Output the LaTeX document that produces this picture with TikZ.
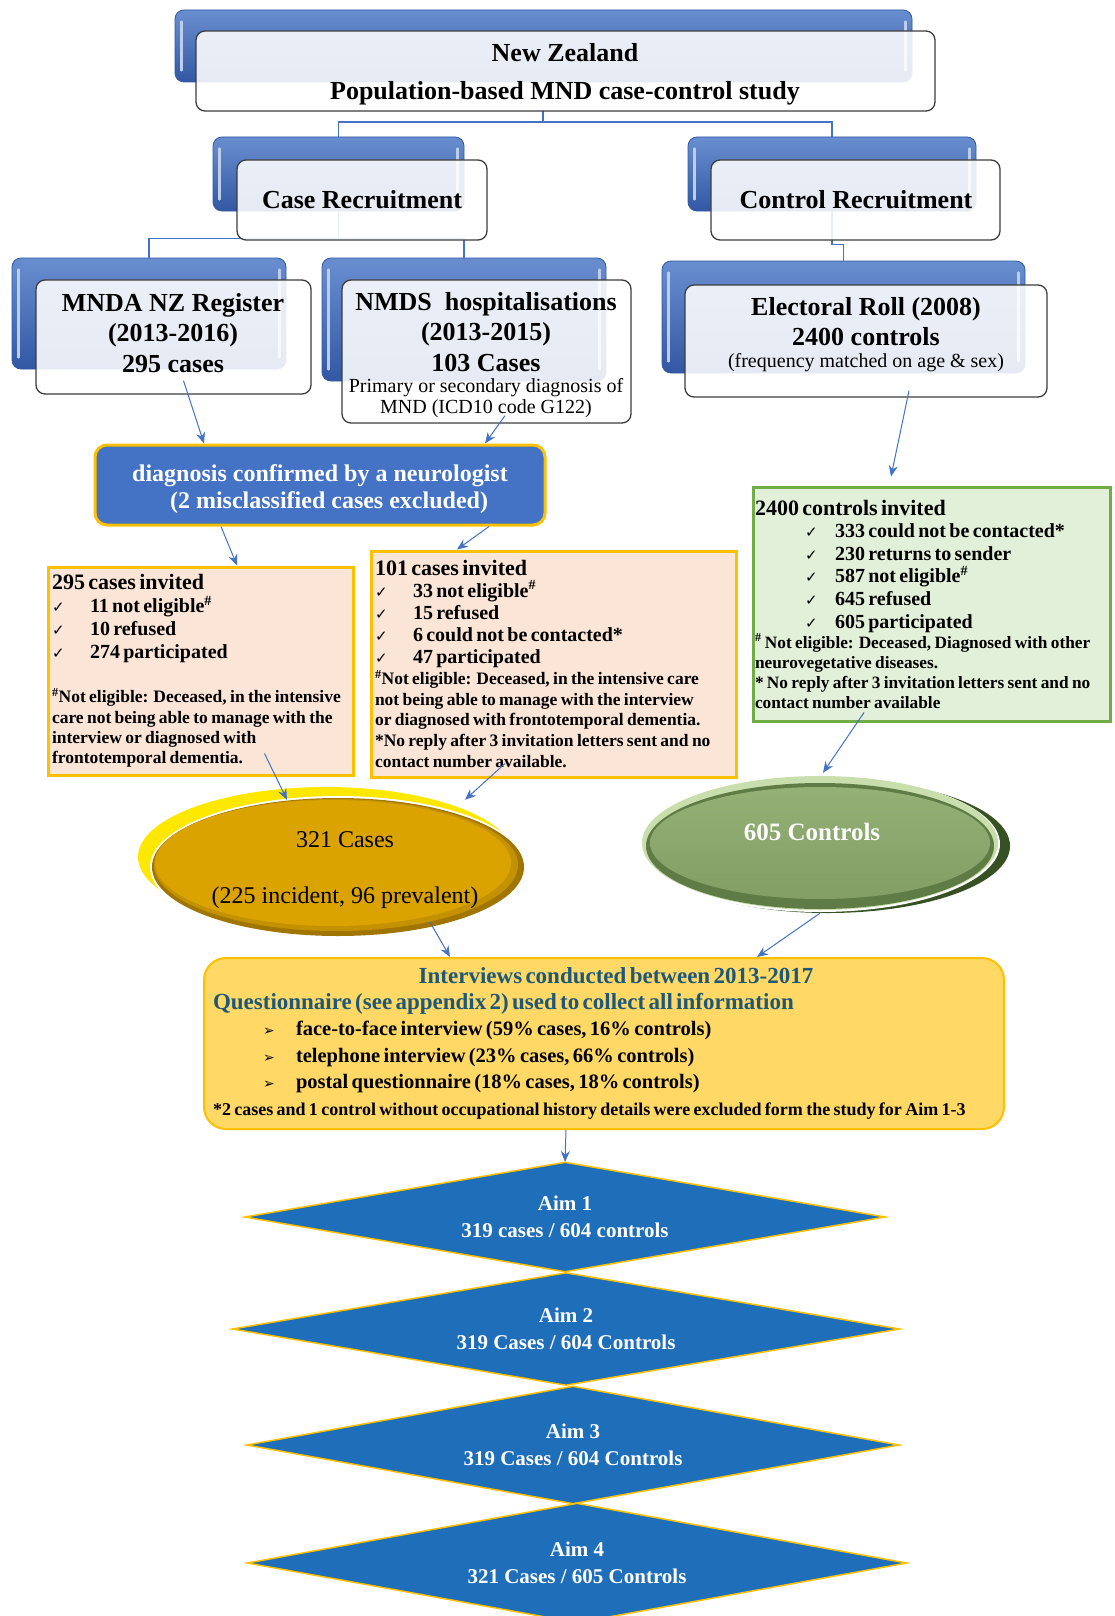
\documentclass[tikz,border=0pt]{standalone}
\usepackage{fontspec}
\setmainfont{Liberation Serif}
\newfontfamily\symfont{DejaVu Sans}
\usepackage{xcolor}
\usetikzlibrary{shapes.geometric, arrows.meta, calc, positioning}
\definecolor{rollblue}{RGB}{68,114,196}
\definecolor{rolldark}{RGB}{50,88,164}
\definecolor{frameedge}{RGB}{60,60,60}
\definecolor{amber}{RGB}{255,192,0}
\definecolor{peach}{RGB}{251,229,214}
\definecolor{mint}{RGB}{226,240,217}
\definecolor{leafgreen}{RGB}{112,173,71}
\definecolor{butter}{RGB}{255,216,102}
\definecolor{tealtext}{RGB}{30,88,120}
\definecolor{aimblue}{RGB}{31,110,185}
\definecolor{goldcase}{RGB}{218,163,0}
\definecolor{goldmid}{RGB}{196,145,0}
\definecolor{golddark}{RGB}{160,118,0}
\definecolor{lemon}{RGB}{255,232,0}
\definecolor{sage}{RGB}{142,172,110}
\definecolor{sagemid}{RGB}{96,124,70}
\definecolor{sagelight}{RGB}{200,222,172}
\definecolor{sagedark}{RGB}{55,80,36}
\newcommand{\ck}{\makebox[38pt][l]{\symfont\fontsize{15}{15}\selectfont ✓}}
\newcommand{\ckc}{\hspace*{50pt}\makebox[30pt][l]{\symfont\fontsize{15}{15}\selectfont ✓}}
\newcommand{\bul}{\hspace*{50pt}\makebox[33pt][l]{\symfont\fontsize{14}{14}\selectfont ➢}}
\newcommand{\hs}{\textsuperscript{\#}}

\begin{document}
\begin{tikzpicture}[x=1pt,y=-1pt,>={Stealth[length=11pt,width=9pt]},
    backbox/.style={rounded corners=9pt, top color=rollblue!80!white, bottom color=rolldark, draw=rolldark, line width=0.8pt, inner sep=0pt},
    frontbox/.style={rounded corners=9pt, draw=frameedge, line width=1.3pt, fill=white, fill opacity=0.88, draw opacity=1, inner sep=0pt},
    heading/.style={font=\fontsize{26}{30.5}\selectfont\bfseries, align=center},
    subnote/.style={font=\fontsize{20}{21}\selectfont, align=center},
    glint/.style={draw=white!65!rollblue, line width=2.5pt, line cap=round},
    link/.style={draw=rollblue, line width=1.6pt},
    arr/.style={->, draw=rollblue, line width=1pt},
    casebox/.style={draw=amber, line width=3pt, fill=peach, align=left, inner xsep=4pt, inner ysep=0pt},
    aim/.style={diamond, shape aspect=5.7, draw=amber, line width=1.5pt, fill=aimblue, inner sep=0pt, text=white, align=center, font=\fontsize{21}{27}\selectfont\bfseries}]

\fill[white] (0,0) rectangle (1114,1616);
\clip (0,0) rectangle (1114,1616);

% Back boxes of the recruitment tree
\node[backbox, minimum width=737pt, minimum height=72pt] (topback) at (543.5,46) {};
\node[backbox, minimum width=251pt, minimum height=74pt] (caseback) at (338.5,174) {};
\node[backbox, minimum width=288pt, minimum height=74pt] (ctrlback) at (832,174) {};
\node[backbox, minimum width=274pt, minimum height=111pt] (mndaback) at (149,313.5) {};
\node[backbox, minimum width=284pt, minimum height=123pt] (nmdsback) at (464,319.5) {};
\node[backbox, minimum width=363pt, minimum height=112pt] (elecback) at (843.5,317) {};
\foreach \b in {topback,caseback,ctrlback,mndaback,nmdsback,elecback}{
    \draw[glint] ($(\b.north west)+(7,12)$) -- ($(\b.south west)+(7,-12)$);
    \draw[glint] ($(\b.north east)+(-7,12)$) -- ($(\b.south east)+(-7,-12)$);
}

% Tree connectors
\coordinate (tj) at (543,122);
\draw[link] (tj |- 0,111) -- (tj);
\draw[link] (caseback.north) |- (tj) -| (ctrlback.north);
\draw[link] (caseback.south) -- ++(0,27) coordinate (cj);
\draw[link] (mndaback.north) |- (cj) -| (nmdsback.north);
\draw[link] (ctrlback.south) |- ($(elecback.north)+(0,-16)$) -- (elecback.north);

% Front boxes
\node[frontbox, minimum width=739pt, minimum height=80pt] (topfront) at (565.5,71) {};
\node[frontbox, minimum width=250pt, minimum height=80pt] (casefront) at (362,200) {};
\node[frontbox, minimum width=289pt, minimum height=80pt] (ctrlfront) at (855.5,200) {};
\node[frontbox, minimum width=275pt, minimum height=114pt] (mndafront) at (173.5,337) {};
\node[frontbox, minimum width=289pt, minimum height=143pt] (nmdsfront) at (486.5,351.5) {};
\node[frontbox, minimum width=362pt, minimum height=112pt] (elecfront) at (866,341) {};

\node[heading, font=\fontsize{26}{38}\selectfont\bfseries] (toptxt) at (565,74) {New Zealand\\Population-based MND case-control study};
\node[heading] (casetxt) at (362,200) {Case Recruitment};
\node[heading] (ctrltxt) at (856,200) {Control Recruitment};
\node[heading] (mndatxt) at (173,333) {MNDA NZ Register\\(2013-2016)\\295 cases};
\node[heading] (nmdstxt) at (486,332) {NMDS\ \ hospitalisations\\(2013-2015)\\103 Cases};
\node[subnote] (nmdsnote) at (486,398.5) {Primary or secondary diagnosis of\\MND (ICD10 code G122)};
\node[heading, font=\fontsize{26}{30}\selectfont\bfseries] (electxt) at (866,322) {Electoral Roll (2008)\\2400 controls};
\node[subnote] (elecnote) at (866,363) {(frequency matched on age \& sex)};

% Neurologist check
\node[rounded corners=12pt, draw=amber, line width=3pt, fill=rollblue, text=white, align=center,
      minimum width=450pt, minimum height=80pt, font=\fontsize{24}{27}\selectfont\bfseries] (diag) at (320,485)
      {};
\node[text=white, align=center, font=\fontsize{24}{27}\selectfont\bfseries] (diagtxt) at (320,489)
      {diagnosis confirmed by a neurologist\\\hspace*{18pt}(2 misclassified cases excluded)};

% Invitation boxes
\node[casebox, text width=297pt, minimum height=208pt] (leftcase) at (200.5,671) {%
{\fontsize{22}{23}\selectfont\bfseries 295 cases invited\par}
{\fontsize{20}{23}\selectfont\bfseries \ck 11 not eligible\hs\\ \ck 10 refused\\ \ck 274 participated\par}
\vspace{24pt}
{\fontsize{17.5}{20.3}\selectfont\bfseries \hs Not eligible: Deceased, in the intensive\\ care not being able to manage with the\\ interview or diagnosed with\\ frontotemporal dementia.\par}};

\node[casebox, text width=357pt, minimum height=226pt] (rightcase) at (553.5,664) {%
{\fontsize{22}{23}\selectfont\bfseries 101 cases invited\par}
{\fontsize{20}{22}\selectfont\bfseries \ck 33 not eligible\hs\\ \ck 15 refused\\ \ck 6 could not be contacted*\\ \ck 47 participated\par}
{\fontsize{17.5}{20.8}\selectfont\bfseries \hs Not eligible: Deceased, in the intensive care\\ not being able to manage with the interview\\ or diagnosed with frontotemporal dementia.\\ {*}No reply after 3 invitation letters sent and no\\ contact number available.\par}};

\node[casebox, draw=leafgreen, fill=mint, text width=353pt, inner xsep=2pt, minimum height=234pt] (ctrlinv) at (931.5,604) {%
{\fontsize{22}{23}\selectfont\bfseries 2400 controls invited\par}
{\fontsize{20}{22.6}\selectfont\bfseries \ckc 333 could not be contacted*\\ \ckc 230 returns to sender\\ \ckc 587 not eligible\hs\\ \ckc 645 refused\\ \ckc 605 participated\par}
{\fontsize{17.3}{20}\selectfont\bfseries \mbox{\hs{} Not eligible: Deceased, Diagnosed with other}\\ neurovegetative diseases.\\ \mbox{{*} No reply after 3 invitation letters sent and no}\\ contact number available\par}};

% Interviews
\node[rounded corners=22pt, draw=amber, line width=2pt, fill=butter, minimum width=800pt, minimum height=171pt] (interview) at (604,1043.5) {};
\node[text width=786pt, align=left, inner sep=0pt] (interviewtxt) at (606,1043) {%
{\color{tealtext}\fontsize{23}{26.4}\selectfont\bfseries \makebox[786pt]{\hspace*{20pt}Interviews conducted between 2013-2017}\\ Questionnaire (see appendix 2) used to collect all information\par}
{\fontsize{20.5}{26.4}\selectfont\bfseries \bul face-to-face interview (59\% cases, 16\% controls)\\ \bul telephone interview (23\% cases, 66\% controls)\\ \bul postal questionnaire (18\% cases, 18\% controls)\par}
{\fontsize{18}{26.4}\selectfont\bfseries *2 cases and 1 control without occupational history details were excluded form the study for Aim 1-3\par}};

% Arrows
\draw[arr] ([xshift=10pt,yshift=14pt]mndafront.south) -- ([xshift=-116pt]diag.north);
\draw[arr] ([xshift=18.5pt,yshift=8pt]nmdsfront.south) -- ([xshift=165pt]diag.north);
\draw[arr] ([xshift=-99pt]diag.south) -- ([xshift=36.5pt]leftcase.north);
\draw[arr] ([xshift=169pt]diag.south) -- ([xshift=-96.5pt]rightcase.north);
\draw[arr] ([xshift=43pt,yshift=7pt]elecfront.south) -- ([xshift=-40.5pt,yshift=9pt]ctrlinv.north);

% Cases and controls ovals
\fill[lemon] (326,857) ellipse [x radius=188, y radius=70];
\fill[white] (338,867) ellipse [x radius=188, y radius=71];
\fill[golddark] (338,867) ellipse [x radius=186, y radius=69];
\fill[goldmid] (336,865) ellipse [x radius=182, y radius=66];
\node[ellipse, minimum width=356pt, minimum height=126pt, inner sep=0pt, fill=goldcase] (cases) at (333,863) {};
\node[align=center, font=\fontsize{24}{56}\selectfont] (casestxt) at (345,870) {321 Cases\\(225 incident, 96 prevalent)};

\fill[sagedark] (828,846) ellipse [x radius=182, y radius=67];
\fill[white] (820,844) ellipse [x radius=180, y radius=68];
\fill[sagelight] (820,843) ellipse [x radius=178, y radius=67];
\fill[sagemid] (820,846) ellipse [x radius=174, y radius=63];
\node[ellipse, minimum width=340pt, minimum height=112pt, inner sep=0pt, top color=sage!95!white, bottom color=sage!92!black] (ctrl) at (820,843) {};
\node[text=white, font=\fontsize{25}{28}\selectfont\bfseries] (ctrlovtxt) at (812,832) {605 Controls};

\draw[arr] ([xshift=64pt,yshift=23pt]leftcase.south) -- ([xshift=-46pt]cases.north);
\draw[arr] ([xshift=-48.5pt,yshift=15pt]rightcase.south) -- ([xshift=132pt]cases.north);
\draw[arr] ([xshift=-67.5pt,yshift=10pt]ctrlinv.south) -- ([xshift=3pt,yshift=14pt]ctrl.north);
\draw[arr] ([xshift=97pt,yshift=4pt]cases.south) -- ([xshift=-154pt]interview.north);
\draw[arr] ([yshift=-14pt]ctrl.south) -- ([xshift=153pt]interview.north);
\draw[arr] ([xshift=-38pt]interview.south) -- (565,1162);

% Aims
\node[aim, minimum width=641pt, minimum height=110pt] (aim1) at (565,1217) {Aim 1\\319 cases / 604 controls};
\node[aim, minimum width=668pt, minimum height=113pt] (aim2) at (566,1329) {Aim 2\\319 Cases / 604 Controls};
\node[aim, minimum width=653pt, minimum height=118pt] (aim3) at (573,1445) {Aim 3\\319 Cases / 604 Controls};
\node[aim, minimum width=660pt, minimum height=120pt] (aim4) at (577,1563) {Aim 4\\321 Cases / 605 Controls};
\end{tikzpicture}
\end{document}
